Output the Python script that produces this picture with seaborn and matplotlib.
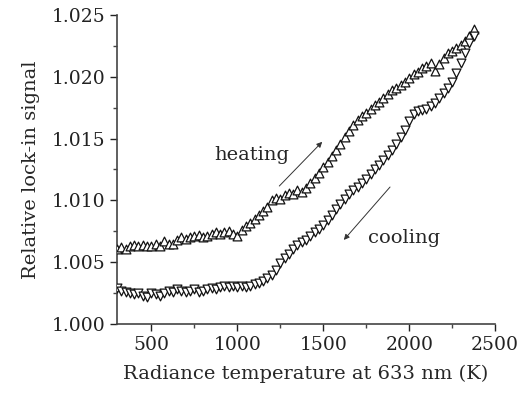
import numpy as np
import pandas as pd
import matplotlib
matplotlib.use("Agg")
import matplotlib.pyplot as plt
from matplotlib.ticker import MultipleLocator
import seaborn as sns

# radiance temperature grid (K), read every 25 K
temp = list(range(300, 2376, 25))

heating = [1.0061, 1.0062, 1.0061, 1.0063, 1.0064, 1.0063, 1.0064, 1.0063, 1.0063,
           1.0065, 1.0063, 1.0067, 1.0065, 1.0065, 1.0068, 1.0070, 1.0069, 1.0070, 1.0071,
           1.0072, 1.0070, 1.0071, 1.0073, 1.0074, 1.0073, 1.0074, 1.0075, 1.0073, 1.0071,
           1.0076, 1.0079, 1.0082, 1.0085, 1.0088, 1.0091, 1.0095, 1.0100, 1.0102, 1.0101,
           1.0104, 1.0106, 1.0105, 1.0108, 1.0107, 1.0110, 1.0114, 1.0118, 1.0122, 1.0127,
           1.0131, 1.0136, 1.0141, 1.0146, 1.0151, 1.0156, 1.0161, 1.0165, 1.0168, 1.0171,
           1.0174, 1.0177, 1.0180, 1.0183, 1.0186, 1.0189, 1.0191, 1.0193, 1.0196, 1.0199,
           1.0202, 1.0204, 1.0207, 1.0209, 1.0211, 1.0205, 1.0210, 1.0215, 1.0219, 1.0221,
           1.0223, 1.0226, 1.0229, 1.0233, 1.0239]

cooling = [1.0029, 1.0027, 1.0026, 1.0025, 1.0024, 1.0025, 1.0023, 1.0022, 1.0025,
           1.0024, 1.0023, 1.0025, 1.0027, 1.0026, 1.0028, 1.0027, 1.0026, 1.0027, 1.0028,
           1.0026, 1.0027, 1.0028, 1.0029, 1.0028, 1.0030, 1.0031, 1.0030, 1.0031, 1.0030,
           1.0031, 1.0030, 1.0031, 1.0032, 1.0033, 1.0035, 1.0037, 1.0040, 1.0044, 1.0049,
           1.0053, 1.0057, 1.0061, 1.0064, 1.0066, 1.0068, 1.0071, 1.0074, 1.0077, 1.0080,
           1.0084, 1.0088, 1.0093, 1.0097, 1.0101, 1.0105, 1.0108, 1.0111, 1.0114, 1.0117,
           1.0121, 1.0125, 1.0129, 1.0133, 1.0137, 1.0141, 1.0146, 1.0151, 1.0157, 1.0164,
           1.0170, 1.0172, 1.0173, 1.0174, 1.0176, 1.0179, 1.0183, 1.0187, 1.0191, 1.0196,
           1.0203, 1.0211, 1.0219, 1.0227, 1.0233]

df = pd.DataFrame({"temp": temp, "heating": heating, "cooling": cooling})

sns.set_theme(style="ticks")
plt.rcParams["font.family"] = ["DejaVu Serif"]

fig = plt.figure(figsize=(5.26, 3.96), dpi=100)
ax = fig.add_axes([0.2224, 0.182, 0.719, 0.780])

mk = dict(facecolor="white", edgecolor="#111111", linewidth=0.9, s=40, zorder=3)
sns.scatterplot(data=df, x="temp", y="heating", marker="^", ax=ax, **mk)
sns.scatterplot(data=df, x="temp", y="cooling", marker="v", ax=ax, **mk)

ax.set_xlim(300, 2500)
ax.set_ylim(1.000, 1.025)
ax.xaxis.set_major_locator(MultipleLocator(500))
ax.xaxis.set_minor_locator(MultipleLocator(250))
ax.yaxis.set_major_locator(MultipleLocator(0.005))
ax.yaxis.set_minor_locator(MultipleLocator(0.0025))
ax.yaxis.set_major_formatter(matplotlib.ticker.FormatStrFormatter("%.3f"))
ax.tick_params(which="major", length=5, width=1, labelsize=13.5, colors="#222222")
ax.tick_params(which="minor", length=3, width=1, colors="#444444")
for s in ["left", "bottom"]:
    ax.spines[s].set_color("#444444")
    ax.spines[s].set_linewidth(1.2)
sns.despine(ax=ax)

ax.set_xlabel("Radiance temperature at 633 nm (K)", fontsize=14, labelpad=8)
ax.set_ylabel("Relative lock-in signal", fontsize=14, labelpad=8)

arr = dict(arrowstyle="-|>", lw=0.7, color="#333333", mutation_scale=8)
ax.annotate("", xy=(1505, 1.0149), xytext=(1233, 1.0110), arrowprops=arr)
ax.annotate("", xy=(1609, 1.00663), xytext=(1899, 1.01125), arrowprops=arr)
ax.text(1082, 1.01367, "heating", fontsize=14, ha="center", va="center")
ax.text(1969, 1.00696, "cooling", fontsize=14, ha="center", va="center")

fig.savefig("out.png", dpi=100)
